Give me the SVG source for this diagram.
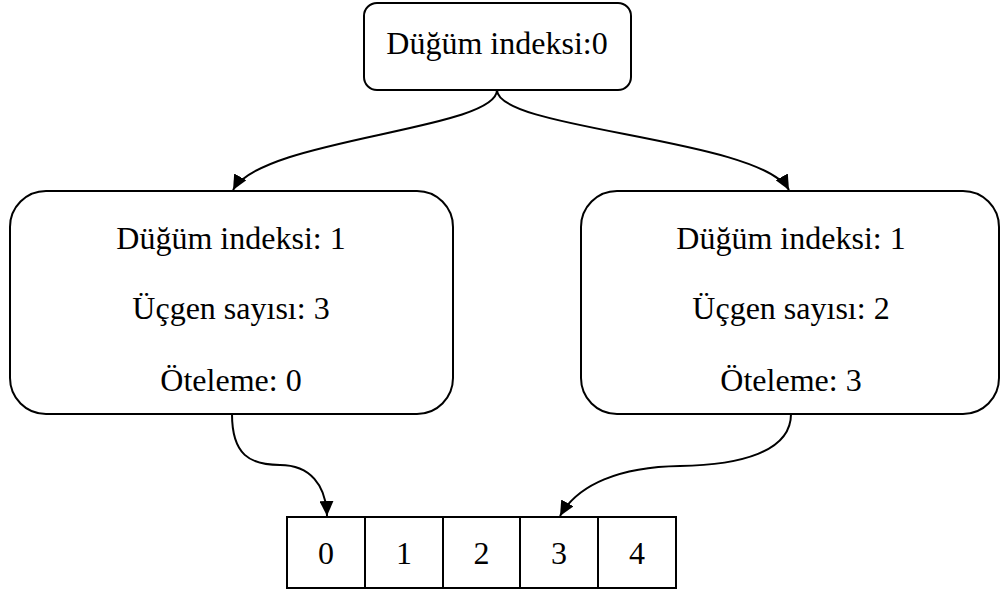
<svg xmlns="http://www.w3.org/2000/svg" width="1000" height="594" viewBox="0 0 1000 594">
<style>
.box{fill:#fff;stroke:#000;stroke-width:2}
text{font-family:'Liberation Serif','Times New Roman',Tinos,'DejaVu Serif',serif;font-size:32px;fill:#000;text-anchor:middle}
.c{fill:none;stroke:#000;stroke-width:2}
</style>
<defs>
<marker id="arr" markerUnits="userSpaceOnUse" markerWidth="16" markerHeight="14" refX="15" refY="7" orient="auto">
<path d="M0,0 L15,7 L0,14 Z" fill="#000"/>
</marker>
</defs>
<rect width="1000" height="594" fill="#fff"/>
<g id="connectors">
<path class="c" d="M497,90 C497,130 262,138 233,190" marker-end="url(#arr)"/>
<path class="c" d="M497,90 C497,130 760,138 789,190" marker-end="url(#arr)"/>
<path class="c" d="M232,414 C232,455 250,465 280,465 C310,465 326,485 327,516" marker-end="url(#arr)"/>
<path class="c" d="M791,414 C791,452 740,465 680,466 C620,467 578,484 560,516" marker-end="url(#arr)"/>
</g>
<g id="root" font-family="Liberation Serif, serif">
<rect class="box" x="364" y="3" width="267" height="87" rx="13"/>
<text x="497" y="54">Düğüm indeksi:0</text>
</g>
<g id="left" font-family="Liberation Serif, serif">
<rect class="box" x="10" y="191" width="443" height="223" rx="36"/>
<text x="231" y="249">Düğüm indeksi: 1</text>
<text x="231" y="319">Üçgen sayısı: 3</text>
<text x="231" y="391">Öteleme: 0</text>
</g>
<g id="right" font-family="Liberation Serif, serif">
<rect class="box" x="581" y="191" width="418" height="223" rx="36"/>
<text x="791" y="249">Düğüm indeksi: 1</text>
<text x="791" y="319">Üçgen sayısı: 2</text>
<text x="791" y="391">Öteleme: 3</text>
</g>
<g id="array" font-family="Liberation Serif, serif">
<rect class="box" x="287" y="517" width="78" height="71"/>
<rect class="box" x="365" y="517" width="78" height="71"/>
<rect class="box" x="443" y="517" width="77" height="71"/>
<rect class="box" x="520" y="517" width="78" height="71"/>
<rect class="box" x="598" y="517" width="78" height="71"/>
<text x="326" y="564">0</text>
<text x="404" y="564">1</text>
<text x="481.5" y="564">2</text>
<text x="559" y="564">3</text>
<text x="637" y="564">4</text>
</g>
</svg>
